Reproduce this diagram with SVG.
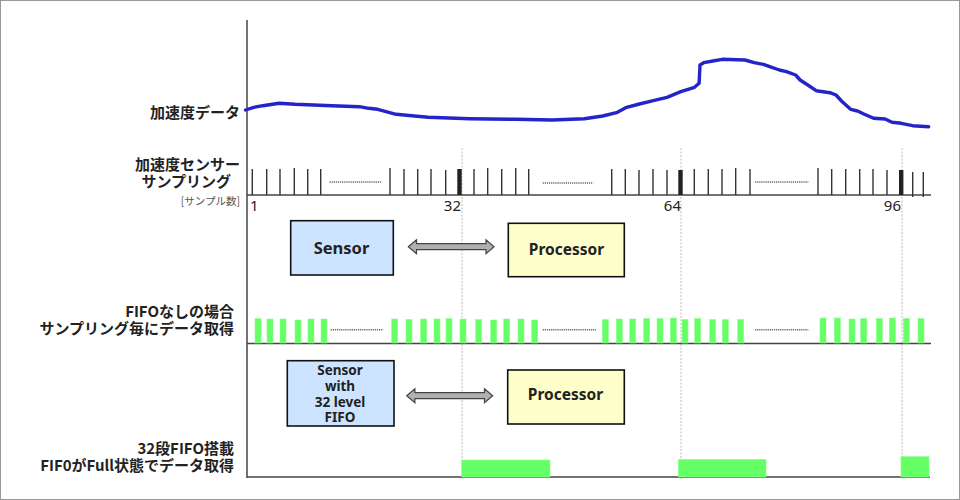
<svg xmlns="http://www.w3.org/2000/svg" width="960" height="500" viewBox="0 0 960 500">
<style>
.lbl{font-family:"Noto Sans CJK JP","Noto Sans",sans-serif;font-weight:bold;font-size:15px;fill:#222;text-anchor:end}
.small{font-family:"Noto Sans CJK JP","Noto Sans",sans-serif;font-size:10.5px;fill:#555;text-anchor:end}
.num{font-family:"Noto Sans","Noto Sans CJK JP",sans-serif;font-size:15px;fill:#222}
.box{stroke:#111;stroke-width:1.6}
.blue{fill:#cce4ff}
.yellow{fill:#ffffcc}
.bt{font-family:"Noto Sans","Open Sans",sans-serif;font-weight:bold;fill:#222;text-anchor:middle}
.tick{stroke:#333;stroke-width:1.4}
.thick{stroke:#222;stroke-width:4.4}
.dots{stroke:#666;stroke-width:1.4;stroke-dasharray:1.2 0.9}
.grid{stroke:#bbb;stroke-width:1;stroke-dasharray:2 1.5}
.axis{stroke:#444;stroke-width:1.5;fill:none}
.g{fill:#66ff66;stroke:#8cff8c;stroke-width:0.6}
.arrow{fill:#b0b0b0;stroke:#444;stroke-width:1.2}
</style>
<rect x="0.5" y="0.5" width="959" height="499" fill="#fff" stroke="#999" stroke-width="1"/>

<!-- grid dotted verticals -->
<g>
<line class="grid" x1="462" y1="148" x2="462" y2="480"/>
<line class="grid" x1="681" y1="148" x2="681" y2="480"/>
<line class="grid" x1="902" y1="148" x2="902" y2="480"/>
</g>

<!-- axes -->
<g>
<line class="axis" x1="247" y1="20" x2="247" y2="478"/>
<line class="axis" x1="247" y1="195" x2="931" y2="195"/>
<line class="axis" x1="247" y1="343.5" x2="931" y2="343.5"/>
<line class="axis" x1="247" y1="477" x2="930" y2="477"/>
</g>

<!-- labels -->
<g>
<text class="lbl" x="240" y="118">加速度データ</text>
<text class="lbl"><tspan x="240" y="170">加速度センサー</tspan><tspan x="231" y="187">サンプリング</tspan></text>
<text class="small" x="240" y="204.5">[サンプル数]</text>
<text class="lbl"><tspan x="234" y="317">FIFOなしの場合</tspan><tspan x="234" y="334">サンプリング毎にデータ取得</tspan></text>
<text class="lbl"><tspan x="234" y="454">32段FIFO搭載</tspan><tspan x="234" y="470.5">FIF0がFull状態でデータ取得</tspan></text>
</g>

<!-- acceleration curve -->
<polyline fill="none" stroke="#2424c8" stroke-width="3.4" stroke-linejoin="round" stroke-linecap="round" points="245.5,110 253.8,107.3 263,105.7 279,103.3 295.1,104.3 331.8,105.7 359.4,106.7 368.6,108.3 377.7,109.3 396.1,114.3 414.5,116 428.2,117.3 469.6,118.7 515.5,119.3 552.2,120 584.4,118.7 602.7,116 616.5,112.7 625.7,107.7 639.4,104 653.2,100.7 667,97.3 680.8,91.7 694.5,87.3 699.1,83.3 700,65 703.7,62.7 712.9,61 722.1,59.3 745,60 754.2,62.7 763.4,64.3 772.6,67.7 779.5,70 786.4,71.7 795.6,75 800.1,80 809.3,86 816.2,90.7 830,92.7 836,95 841.5,101 850.6,109.3 857.5,111 864.4,114.3 873.6,118.3 885.1,119 892,122.3 901.2,123.3 912.6,125.7 928.7,126.7"/>

<!-- sampling ticks -->
<g>
<line class="tick" x1="252.3" y1="169" x2="252.3" y2="195"/>
<line class="tick" x1="266.7" y1="169" x2="266.7" y2="195"/>
<line class="tick" x1="280" y1="169" x2="280" y2="195"/>
<line class="tick" x1="294.3" y1="168" x2="294.3" y2="195"/>
<line class="tick" x1="307.7" y1="169" x2="307.7" y2="195"/>
<line class="tick" x1="320.7" y1="169" x2="320.7" y2="195"/>
<line class="dots" x1="329.5" y1="182" x2="381.7" y2="182"/>
<line class="tick" x1="390" y1="168" x2="390" y2="195"/>
<line class="tick" x1="404" y1="169" x2="404" y2="195"/>
<line class="tick" x1="417.7" y1="169" x2="417.7" y2="195"/>
<line class="tick" x1="431" y1="169" x2="431" y2="195"/>
<line class="tick" x1="445.7" y1="170" x2="445.7" y2="195"/>
<line class="thick" x1="459.5" y1="169" x2="459.5" y2="195"/>
<line class="tick" x1="474" y1="169" x2="474" y2="195"/>
<line class="tick" x1="487.7" y1="168" x2="487.7" y2="195"/>
<line class="tick" x1="501.7" y1="169" x2="501.7" y2="195"/>
<line class="tick" x1="515.7" y1="168" x2="515.7" y2="195"/>
<line class="tick" x1="528.7" y1="169" x2="528.7" y2="195"/>
<line class="dots" x1="542.7" y1="183" x2="593.3" y2="183"/>
<line class="tick" x1="611.7" y1="169" x2="611.7" y2="195"/>
<line class="tick" x1="625.3" y1="169" x2="625.3" y2="195"/>
<line class="tick" x1="639" y1="170" x2="639" y2="195"/>
<line class="tick" x1="653" y1="169" x2="653" y2="195"/>
<line class="tick" x1="667" y1="170" x2="667" y2="195"/>
<line class="thick" x1="680.5" y1="170" x2="680.5" y2="195"/>
<line class="tick" x1="694.3" y1="169" x2="694.3" y2="195"/>
<line class="tick" x1="708.3" y1="169" x2="708.3" y2="195"/>
<line class="tick" x1="722" y1="169" x2="722" y2="195"/>
<line class="tick" x1="735.7" y1="168" x2="735.7" y2="195"/>
<line class="tick" x1="750" y1="169" x2="750" y2="195"/>
<line class="dots" x1="755" y1="182" x2="808.3" y2="182"/>
<line class="tick" x1="818" y1="168" x2="818" y2="195"/>
<line class="tick" x1="831.7" y1="169" x2="831.7" y2="195"/>
<line class="tick" x1="845.7" y1="169" x2="845.7" y2="195"/>
<line class="tick" x1="859.7" y1="169" x2="859.7" y2="195"/>
<line class="tick" x1="873" y1="169" x2="873" y2="195"/>
<line class="tick" x1="887" y1="170" x2="887" y2="195"/>
<line class="thick" x1="901.2" y1="170" x2="901.2" y2="195"/>
<line class="tick" x1="912.7" y1="172" x2="912.7" y2="197"/>
<line class="tick" x1="923.3" y1="172" x2="923.3" y2="197"/>
</g>

<!-- sample numbers -->
<g>
<text class="num" x="250" y="210.5">1</text>
<text class="num" x="461" y="210.5" text-anchor="end">32</text>
<text class="num" x="681" y="210.5" text-anchor="end">64</text>
<text class="num" x="901" y="210.5" text-anchor="end">96</text>
</g>

<!-- green bars: no FIFO -->
<g>
<rect class="g" x="255" y="318.5" width="6" height="24.5"/>
<rect class="g" x="267" y="319" width="6" height="24"/>
<rect class="g" x="280" y="319" width="6" height="24"/>
<rect class="g" x="295" y="320" width="6" height="23"/>
<rect class="g" x="308" y="319" width="6" height="24"/>
<rect class="g" x="321" y="319" width="6" height="24"/>
<line class="dots" x1="330.7" y1="329.7" x2="383.3" y2="329.7"/>
<rect class="g" x="391.7" y="319" width="6" height="24"/>
<rect class="g" x="406" y="319.5" width="6" height="23.5"/>
<rect class="g" x="420.7" y="319" width="6" height="24"/>
<rect class="g" x="434" y="319" width="6" height="24"/>
<rect class="g" x="446" y="318.5" width="6" height="24.5"/>
<rect class="g" x="460" y="319" width="6" height="24"/>
<rect class="g" x="475.7" y="319.5" width="6" height="23.5"/>
<rect class="g" x="490.7" y="320" width="6" height="23"/>
<rect class="g" x="503.7" y="319" width="6" height="24"/>
<rect class="g" x="518" y="319" width="6" height="24"/>
<rect class="g" x="531.7" y="320" width="6" height="23"/>
<line class="dots" x1="542.7" y1="329.7" x2="596" y2="329.7"/>
<rect class="g" x="602.3" y="319.5" width="6" height="23.5"/>
<rect class="g" x="616.3" y="319" width="6" height="24"/>
<rect class="g" x="629.7" y="319" width="6" height="24"/>
<rect class="g" x="643.7" y="318.5" width="6" height="24.5"/>
<rect class="g" x="657" y="318.5" width="6" height="24.5"/>
<rect class="g" x="670.3" y="318" width="6" height="25"/>
<rect class="g" x="682" y="319.5" width="6" height="23.5"/>
<rect class="g" x="694.7" y="318.5" width="6" height="24.5"/>
<rect class="g" x="709.7" y="319.5" width="6" height="23.5"/>
<rect class="g" x="722.3" y="319.5" width="6" height="23.5"/>
<rect class="g" x="737.7" y="319.5" width="6" height="23.5"/>
<line class="dots" x1="755" y1="329.7" x2="808.3" y2="329.7"/>
<rect class="g" x="820" y="318" width="6" height="25"/>
<rect class="g" x="834.3" y="318" width="6" height="25"/>
<rect class="g" x="849" y="319" width="6" height="24"/>
<rect class="g" x="860.7" y="318.5" width="6" height="24.5"/>
<rect class="g" x="876.3" y="318.5" width="6" height="24.5"/>
<rect class="g" x="889.3" y="318" width="6" height="25"/>
<rect class="g" x="903.3" y="318.5" width="6" height="24.5"/>
<rect class="g" x="918" y="318.5" width="6" height="24.5"/>
</g>

<!-- green bars: with FIFO -->
<g>
<rect class="g" x="461.7" y="460" width="88.3" height="17"/>
<rect class="g" x="678.3" y="459.3" width="87.7" height="17.7"/>
<rect class="g" x="901" y="456.7" width="28" height="20.3"/>
</g>

<!-- nodes -->
<g id="sensor1">
<rect class="box blue" x="290.7" y="220.7" width="102.6" height="54.3"/>
<text class="bt" x="341.5" y="254.3" font-size="16.5">Sensor</text>
</g>
<g id="processor1">
<rect class="box yellow" x="508.3" y="223.3" width="116" height="53.4"/>
<text class="bt" x="566.5" y="255" font-size="15.5">Processor</text>
</g>
<g id="sensor2">
<rect class="box blue" x="287.3" y="360.7" width="106.7" height="65.3"/>
<text class="bt" font-size="13.5"><tspan x="340" y="375">Sensor</tspan><tspan x="340" y="390.5">with</tspan><tspan x="340" y="406.5">32 level</tspan><tspan x="340" y="421.7">FIFO</tspan></text>
</g>
<g id="processor2">
<rect class="box yellow" x="507.7" y="370" width="116.6" height="54"/>
<text class="bt" x="565.5" y="399.5" font-size="15.5">Processor</text>
</g>

<!-- connectors -->
<g id="connectors">
<path class="arrow" d="M408.3,246.7 L416.5,239.7 L416.5,243.7 L486,243.7 L486,239.7 L494,246.7 L486,253.7 L486,249.7 L416.5,249.7 L416.5,253.7 Z"/>
<path class="arrow" d="M406.7,395.7 L414.9,388.7 L414.9,392.7 L484.5,392.7 L484.5,388.7 L492.7,395.7 L484.5,402.7 L484.5,398.7 L414.9,398.7 L414.9,402.7 Z"/>
</g>
</svg>
